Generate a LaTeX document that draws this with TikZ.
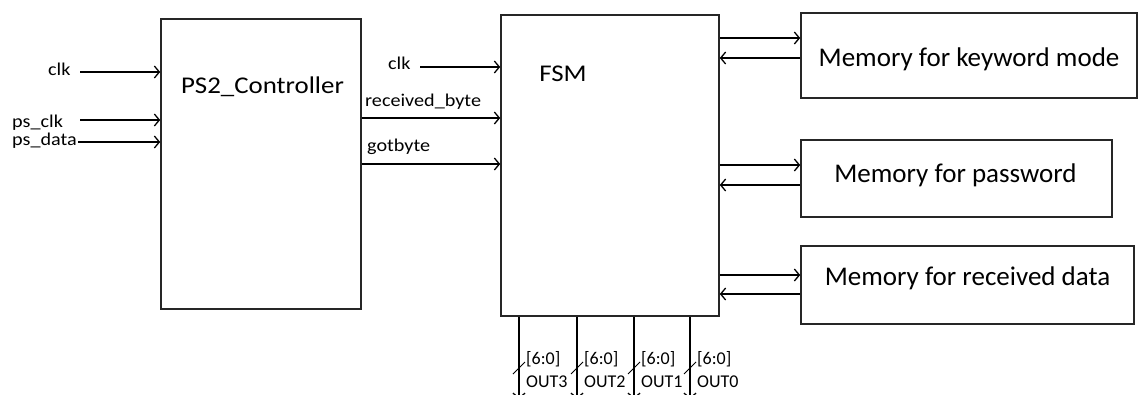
\documentclass[tikz,border=0pt]{standalone}
\usepackage{fontspec}
\setmainfont{Carlito}
\newfontfamily\widefont[FakeStretch=1.12]{Carlito}
\usetikzlibrary{arrows.meta,positioning}
\tikzset{
	blk/.style={draw=black!85, line width=1.6pt, inner sep=0pt},
	lbl/.style={inner sep=0pt, font=\widefont\fontsize{18}{23}\selectfont},
	bus/.style={inner sep=0pt, font=\fontsize{18}{23}\selectfont},
	big/.style={inner sep=0pt, font=\widefont\fontsize{24}{28}\selectfont},
	mem/.style={inner sep=0pt, font=\fontsize{27}{30}\selectfont},
	sig/.style={line width=1.3pt, ->},
}
\begin{document}
\begin{tikzpicture}[x=1pt, y=-1pt, >={Straight Barb[length=5pt,width=12pt]}]
	\useasboundingbox (0,0) rectangle (1138,394);
	% blocks
	\node[blk, minimum width=200pt, minimum height=290pt] (ps2) at (261,164) {};
	\node[blk, minimum width=218pt, minimum height=301pt] (fsm) at (610,165.5) {};
	\node[blk, minimum width=336pt, minimum height=85pt] (memkey) at (969,55.5) {};
	\node[blk, minimum width=311pt, minimum height=77pt] (mempass) at (956.5,178.5) {};
	\node[blk, minimum width=333pt, minimum height=78pt] (memdata) at (967.5,285) {};
	
	\node[big, anchor=base] (ps2T) at (262.5,93) {PS2\_Controller};
	\node[big, anchor=base] (fsmT) at (563,81) {FSM};
	\node[mem, anchor=base] (memkeyT) at (969,66) {Memory for keyword mode};
	\node[mem, anchor=base] (mempassT) at (955.5,182) {Memory for password};
	\node[mem, anchor=base] (memdataT) at (967.5,285) {Memory for received data};
	
	% inputs
	\coordinate (inclk) at (80,72);
	\coordinate (inpsclk) at (80,120);
	\coordinate (inpsdata) at (78,142);
	\node[lbl, anchor=base west] (clkA) at (48,75) {clk};
	\node[lbl, anchor=base west] (psclk) at (12,127) {ps\_clk};
	\node[lbl, anchor=base west] (psdata) at (12,145) {ps\_data};
	\draw[sig] (inclk) -- (inclk -| ps2.west);
	\draw[sig] (inpsclk) -- (inpsclk -| ps2.west);
	\draw[sig] (inpsdata) -- (inpsdata -| ps2.west);
	
	% controller to fsm
	\coordinate (fclk) at (420,67);
	\node[lbl, anchor=base west] (clkB) at (388,69) {clk};
	\draw[sig] (fclk) -- (fclk -| fsm.west);
	\node[lbl, anchor=base west] (rbyte) at (365,106) {received\_byte};
	\draw[sig] ([yshift=46pt]ps2.east) -- ([yshift=46pt]ps2.east -| fsm.west);
	\node[lbl, anchor=base west] (gbyte) at (367,151) {gotbyte};
	\draw[sig] (ps2.east) -- (ps2.east -| fsm.west);
	
	% fsm and memories
	\draw[sig] ([yshift=17.5pt]memkey.west -| fsm.east) -- ([yshift=17.5pt]memkey.west);
	\draw[sig] ([yshift=-2.5pt]memkey.west) -- ([yshift=-2.5pt]memkey.west -| fsm.east);
	\draw[sig] ([yshift=13.5pt]mempass.west -| fsm.east) -- ([yshift=13.5pt]mempass.west);
	\draw[sig] ([yshift=-6.5pt]mempass.west) -- ([yshift=-6.5pt]mempass.west -| fsm.east);
	\draw[sig] ([yshift=10pt]memdata.west -| fsm.east) -- ([yshift=10pt]memdata.west);
	\draw[sig] ([yshift=-9pt]memdata.west) -- ([yshift=-9pt]memdata.west -| fsm.east);
	
	% outputs
	\foreach \x/\n in {519/3,577/2,634/1,690/0}{
		\coordinate (out\n) at (\x,399);
		\draw[sig] (out\n |- fsm.south) -- (out\n);
		\draw[line width=1pt] (\x-6,374) -- (\x+6,362);
		\node[bus, anchor=west, align=left] (bus\n) at (\x+7,369.5) {[6:0]\\OUT\n};
	}
\end{tikzpicture}
\end{document}
